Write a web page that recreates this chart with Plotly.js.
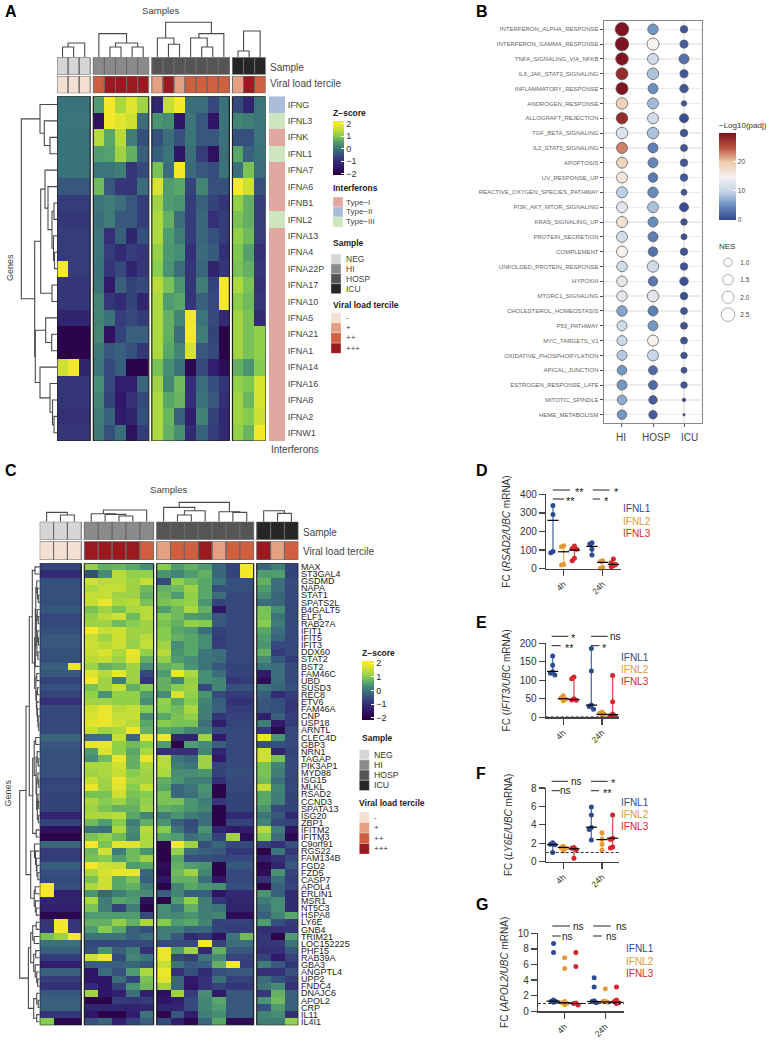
<!DOCTYPE html>
<html><head><meta charset="utf-8">
<script src="https://cdn.plot.ly/plotly-3.0.1.min.js"></script>
<style>html,body{margin:0;padding:0;background:#fff}#c{width:771px;height:1041px}</style>
</head><body><div id="c"></div>
<script>
// ---------- PANEL A DATA ----------
const genesA=["IFNG","IFNL3","IFNK","IFNL1","IFNA7","IFNA6","IFNB1","IFNL2","IFNA13","IFNA4","IFNA22P","IFNA17","IFNA10","IFNA5","IFNA21","IFNA1","IFNA14","IFNA16","IFNA8","IFNA2","IFNW1"];
const interferonTypeA=[1,2,0,2,0,0,0,2,0,0,0,0,0,0,0,0,0,0,0,0,0];
const sampleGroup=[0,0,0,1,1,1,1,1,2,2,2,2,2,2,2,3,3,3];
const viralA=[0,0,0,2,3,3,3,3,1,3,1,2,2,2,2,1,3,2];
const viralC=[0,0,0,3,3,3,3,2,1,2,2,3,1,2,2,3,1,2];
const zA=[
[-.05,-.05,-.05,.5,2,1.3,1.8,1.2,-1.2,1.5,2,-.1,-.1,-.6,-.05,-.6,-1.2,0],
[0,0,0,-1.6,2,1.8,1.6,-.1,.4,.3,-1.5,0,-.4,-1.5,0,.2,.1,0],
[-.05,-.05,-.05,1.4,.6,1.4,.1,-.5,-.5,-.1,-.5,0,-.4,-.4,-.05,-.5,-.5,0],
[-.05,-.05,-.05,.5,.55,1.2,.7,-.3,-.3,0,-1.5,-.1,-.8,-1.6,-.1,.6,-.25,-.05],
[-.05,-.05,-.05,0,0,.1,-.9,-.6,.9,-.1,2,-.15,-.4,-.55,0,-.05,.9,-.1],
[-.4,-.4,-.4,.8,-.4,-.9,-.9,-.1,1.7,.5,.6,-.7,.2,-.5,-.5,2,1.6,-.5],
[-.8,-.8,-.8,0,.1,-.1,-.4,-.8,1.2,.5,.4,-.8,-.3,-.7,-.9,1.1,.7,-.8],
[-.9,-.9,-.9,-.1,.1,-.4,-.4,-.8,1.3,.7,-.1,-.8,-.2,-1,-.8,.9,.7,-.8],
[-.8,-.8,-.8,0,-1,-.3,-1.2,-.5,1.3,.5,.1,-.8,-.2,-.5,-.8,1.1,.8,-.8],
[-.8,-.8,-.8,0,-.8,-1.1,-.8,-.9,1.1,.45,.3,-1,-.15,-.35,-1,.95,.55,-1],
[2,-.8,-.8,-.05,-.9,-.6,-1.2,-.9,1,.4,-.1,-.9,-.2,-1.2,-.9,.9,.7,-.9],
[-.9,-.9,-.9,0,-1.4,-.3,-.7,-.6,1.4,.9,.4,-.9,.1,-.7,2,1.3,.9,-1],
[-.9,-.9,-.9,.2,-.9,-1.1,-.7,-1.2,1.3,.5,.6,-.9,-.3,-.6,2,1.05,.8,-.9],
[-1.2,-1.2,-1.2,.2,-.05,-.8,-.6,-.8,1.3,.7,.2,2,0,-.6,-1.1,1.2,.9,-1.1],
[-1.9,-1.9,-1.9,.25,-1.6,-.7,-.3,-.3,1.3,.7,-.1,2,.1,-.7,-1.9,1.2,.9,1.1],
[-1.9,-1.9,-1.9,.05,-.4,-.3,-.5,-.9,1.3,.6,.2,1.7,-.4,-.6,-1.9,1.2,.9,1.1],
[1.6,2,-1.2,0,-.6,-.3,-1.9,-1.9,.9,.3,-.05,-1.8,-.6,-1.3,-1.7,.7,.4,1],
[-.9,-.9,-.9,.3,-.6,-1.3,-1.3,-.2,1.2,.25,.8,-1,-.1,-.55,-.9,1.1,.95,1.7],
[-.9,-.9,-.9,.2,-.7,-1.5,-1,-.6,1.3,.6,.75,-1,-.05,-.4,-1,1.2,.75,1.7],
[-1,-1,-1,.1,-.25,-1.4,-1.2,-.5,1.3,.75,-.3,-1.3,.15,-.7,-1.1,1.2,1,1.6],
[-.9,-.9,-.9,.05,-.5,-.1,-1.6,-.8,1.3,.7,.35,-1.1,-.25,-.8,-1.1,1.1,.75,2]
];
// dendrograms: [left, right, merge height]; integers are leaves
const treesTopA=[[[0,1,10.3],2,14.3],[0,[[1,2,10.3],[3,4,10.3],14.3],23.7],[[0,[1,2,13],19.3],[[3,[4,5,10.3],19.3],6,23.7],35],[[0,1,6.3],2,26.3]];
const treeLeftA=[[0,[1,[2,3,7],12.7],17],[[[4,[5,[[6,7,3],[8,[9,10,2.5],3.5],5],9],12],[11,12,5],16.3],[[13,[14,15,5.3],11.3],[16,[17,[18,[19,20,3],4.5],7],17],21.7],22.3],35.7];

// ---------- PANEL C DATA ----------
const genesC=["MAX","ST3GAL4","GSDMD","NAPA","STAT1","SPATS2L","B4GALT5","ELF1","RAB27A","IFIT1","IFIT5","IFIT3","DDX60","STAT2","BST2","FAM46C","UBD","SUSD3","REC8","ETV6","FAM46A","CNP","USP18","ARNTL","CLEC4D","GBP3","NRN1","TAGAP","PIK3AP1","MYD88","ISG15","MLKL","RSAD2","CCND3","SPATA13","ISG20","ZBP1","IFITM2","IFITM3","C9orf91","RGS22","FAM134B","FGD2","FZD5","CASP7","APOL4","ERLIN1","MSR1","NT5C3","HSPA8","LY6E","GNB4","TRIM21","LOC152225","PHF15","RAB39A","GBA3","ANGPTL4","UPP2","FNDC4","DNAJC6","APOL2","CRP","IL11","IL4I1"];
const zC=[
[-.7,-.7,-.7,1.1,.7,.75,.6,.3,1,.5,.7,.5,-.2,-.7,2,-.2,.1,-.7],
[-1.1,-1.1,-1.1,-.5,.3,1.4,1.1,1.1,.4,.2,.5,.7,-.2,-.7,2,.5,.5,-.7],
[-.5,-.5,-.5,1.6,1.4,1.4,1.2,1.5,-.6,1.1,.8,.6,0,-.5,-.5,.7,-.1,-.6],
[-.5,-.5,-.5,1.3,1.5,1.5,1.2,.8,.7,.8,1.2,.6,-.5,-.5,-.5,.5,-.1,-.6],
[-.5,-.5,-.5,1.5,1.5,1.2,1.2,.7,.8,.5,1.1,.6,-.1,-.6,-.6,.3,-.2,-.6],
[-.5,-.5,-.5,1.5,1.9,1.3,1.4,.9,.9,1,1.1,.4,-.7,-.6,-.6,-.1,-.2,-.6],
[-.4,-.4,-.4,.9,1.2,.9,1.3,1.4,.5,.8,1.3,.7,-1.5,-.6,-.6,.9,.3,-.6],
[-.6,-.6,-.6,1.1,1.4,1.6,.8,1.4,1,.8,.5,.4,-.4,-.6,-.6,.9,0,-.6],
[-.6,-.6,-.6,1.2,1.2,.8,1,1.2,.9,.7,1.1,1,-.4,-.6,-.6,1,.1,-.6],
[-.5,-.5,-.5,2,1.5,1.6,1.2,1.2,1,.6,.5,-.1,-.7,-.6,-.6,.6,-.1,-.6],
[-.4,-.4,-.4,1.5,1.2,1.6,1.2,1.4,1,.7,.6,.3,-.8,-.6,-.6,.5,-.2,-.6],
[-.4,-.4,-.4,1.6,1.4,1.6,1.1,1.5,1.2,.3,.6,.3,-.8,-.6,-.6,.4,-.6,-.6],
[-.5,-.5,-.5,1.5,1.7,1.3,1.9,1.1,1.4,.4,.6,0,-.1,-.6,-.6,.7,-.8,-.6],
[-.5,-.5,-.5,1.4,1.5,1.2,1.8,.7,1.1,.5,.3,0,-.1,-.6,-.6,.3,-.4,-.8],
[-.3,-.3,1.9,1.2,.7,.8,1.2,.3,.7,.8,.4,0,-.4,-.7,-.7,0,-.1,-.6],
[-.4,-.4,-.4,1.8,1.4,1.9,1.2,-.6,.5,1.9,1.3,.3,-.1,-.7,-.7,-1.4,-.1,-.6],
[-.7,-.7,-.7,2,1.2,.1,1.2,-.9,.7,.2,1.1,.3,.2,-.9,-.8,-1.7,-.1,-.6],
[-.5,-.5,-.5,.9,1.2,1.5,.7,1,.7,1,1.2,-.6,.2,-.5,-.5,0,-.2,-.5],
[-.7,-.7,-.7,1.1,.4,1.1,1.1,.5,.3,1.7,1.1,.4,-.6,-.8,-.8,-.3,-1.1,-.8],
[-1,-1,-1,1.2,1.2,1.1,1.1,.3,1.1,.6,1,.2,-.3,-1,-1,-.4,-.5,-.9],
[-.6,-.6,-.6,1.6,1.9,1.4,1.5,1,1,.8,1.3,.1,-.3,-.8,-.8,-.4,-.5,-.9],
[-.6,-.6,-.6,1.7,1.9,1.5,1.5,.3,.6,.9,1.1,.1,-.9,-.7,-.7,-1.3,-.3,-.8],
[-.6,-.6,-.6,1.8,1.9,1.6,1.4,.6,1,.9,.9,-.1,-1.3,-.7,-.7,.1,-1.4,-.8],
[-.6,-.6,-.6,1.5,1.2,1.3,1.9,.7,.6,.5,.2,.1,-.6,-.6,-.6,-.9,-1.8,-.6],
[-.2,-.2,-.2,-.1,-.05,1.5,-.2,1.9,1.9,-1.2,-1.2,1.2,-1.4,-.6,-.6,1.9,.4,-.6],
[-.4,-.4,-.4,1.9,1.9,1.1,.8,1,.5,-1.9,.5,.3,-.3,-.6,-.6,-.5,-.5,-.6],
[-.5,-.5,-.5,.5,1.7,1.1,.6,1.3,-1,-1,-1,.2,-1.2,-.6,-.6,1.6,-1.2,-.7],
[-.5,-.5,-.5,.3,.8,1.9,.7,1.9,1.4,0,-.2,1.2,-1.4,-.6,-.6,1.6,.9,-.6],
[-.5,-.5,-.5,1.3,1.3,1.6,.7,1.3,1.4,.1,0,1.2,-.7,-.6,-.6,.9,.2,-.6],
[-.5,-.5,-.5,1.2,1.3,1.5,1,1.2,1.3,.3,.3,.4,-.7,-.5,-.5,.9,.1,-.6],
[-.7,-.7,-.7,1.5,1.2,1.9,1.2,1.2,.7,.4,.1,.1,-1,-.6,-.6,.8,-.1,-.7],
[-.6,-.6,-.6,1.9,1.2,1.8,1,1.5,.6,-.2,0,.4,-1.9,-.6,-.6,1.5,.2,-.6],
[-.7,-.7,-.7,.9,.9,1.6,.9,1,.9,-.2,-.1,.3,-1.9,-.7,-.7,.6,.1,-.7],
[-.7,-.7,-.7,1.3,1,1.2,.8,1.1,.9,.9,.4,.1,-.9,-.7,-.7,.6,.1,-.7],
[-.7,-.7,-.7,1.2,.9,.7,.7,1.2,.7,.6,.4,.2,-1.9,-.7,-.7,.4,-.6,-.7],
[-1.2,-1.2,-1.2,1.3,1.3,1.4,.6,.2,.1,.4,.1,-.1,-1.9,-1.1,-1.1,0,-.4,-1.1],
[-.7,-.7,-.7,.8,.5,1,.1,.7,.4,-.3,-.6,-.1,-1.9,-.7,-.7,.2,-.6,-.7],
[-1.6,-1.6,-1.6,0,-.1,1.3,.3,1.4,1,0,-.5,.4,-1.2,-1.4,-1.3,1.4,.1,-1.5],
[-1.9,-1.9,-1.9,.9,1.1,.8,.2,1.3,.6,.5,-.1,.1,-.7,1.2,-1.7,1,-.1,-1.8],
[-.2,-.2,-.2,2,.9,1.8,1.8,1.3,-1.9,2,1.2,-.5,-.2,-.6,-.6,-.7,-1,-.5],
[-.8,-.8,-.8,.8,1.6,.1,.8,.4,-1.9,1.1,-.1,-.3,-.4,-.9,-.9,-1.9,0,-.9],
[-.8,-.8,-.8,.9,1,.5,.8,1.2,-1.9,.6,-.5,-.5,-.6,-.6,-.6,-1.3,-1,-.6],
[-.3,-.3,-.3,2,1.6,1.5,.5,.6,-1.7,.7,.5,.4,-1.9,-.4,-.4,-1.8,-1.2,-.4],
[-.5,-.5,-.5,1.3,1.7,1.9,1.9,-.2,-1.8,.8,1.2,.2,-1.9,-.6,-.6,-1.7,.4,-.7],
[-.6,-.6,-.6,.9,1.6,.6,.9,-.3,-1.5,.7,.7,-.1,-1.5,-.6,-.6,-1,-.1,-.8],
[2,-.5,-.5,1.3,1.6,.6,.7,.1,-1.9,.2,.6,.4,.3,-.5,-.5,-1.9,-.3,-.7],
[2,-1.3,-1.3,.4,-.2,.1,.4,.3,-.3,.2,-.3,-.3,-1.5,-1.1,-1.1,.4,-.3,-1.1],
[-1.2,-1.2,-1.2,1.3,.1,.6,.5,-1.6,-1.9,.5,1.1,.1,-.9,-1.2,-1.2,.1,.3,-1.1],
[-1.3,-1.3,-1.3,.9,.1,-.7,.1,-1.9,.3,0,.7,.1,0,-1.2,-1.2,-.1,.3,-1.1],
[-1.8,-1.8,-1.8,.5,.5,.5,.5,-.6,.3,.25,.4,.1,.2,-1.7,-1.7,-.3,.2,.6],
[-.9,2,-.9,.7,.7,1.1,.7,1.3,1,.5,.6,.2,-.7,-.7,-.7,.5,-.5,-.8],
[-.9,2,-.9,.5,1,.6,-.3,-.5,.1,.1,-.2,-.2,-.7,-.8,-.8,-1,-1,-.9],
[.9,1.2,2,0,0,0,-.3,-.1,.1,-.4,-1.1,-.9,-1.6,0,.8,-.9,-1.9,.5],
[-.05,-.05,-.05,-.6,-.6,-.6,-.6,-.6,-.6,-.6,-.6,2,-.7,-.1,-.1,-.9,-.9,0],
[-.3,-.3,-.3,-.5,.4,-.3,.1,-1,1.9,.5,1.2,-1.1,.7,-.4,-.4,-1,-1,-.4],
[-.8,-.8,-.8,1.6,2,-.6,.2,0,1.9,-.6,-.8,0,.3,-.7,-.7,-.7,-1.4,-.7],
[-1.3,-1.3,-1.3,-.3,-.3,-.3,-.2,-.4,1.5,0,-.4,-.3,.7,2,-.8,.1,-.4,-.9],
[-.3,-.3,-.3,-1.5,-.1,-.5,.5,1.3,1.9,-1,-.5,-1.1,-.5,-.4,-.4,-1,-1,-.5],
[-.8,-.8,-.8,-1.5,-1.5,-.1,-.7,.9,1.8,-.2,-1.4,-1,-.1,-.7,-.7,-.1,-.5,-.8],
[-1,-1,-1,-1.1,-1.5,-.7,.4,.8,1.2,-.2,-1.5,-1,-.7,-.9,-.9,0,.3,-1],
[-.4,-.4,-.4,1.2,-1.5,-1.3,-.1,-1.3,-1.6,1.2,-.8,.3,-1.4,-.4,-.4,-.9,.7,-.3],
[-.3,-.3,-.3,-1.9,-1.9,-.8,-.9,-.8,-1.5,-1.3,-.6,.2,.6,-.4,-.4,.4,.8,-.3],
[-.3,-.3,-.3,-1.2,-1.2,-1.2,-1.2,-1.2,-1.2,-1.2,-.6,.2,.5,-.4,-.4,-.5,.5,-.3],
[-.9,-.9,-.9,-1.5,-1.9,-1.9,-1.3,0,-1.8,-.4,-1.3,.1,.3,-.4,-.4,.2,.3,-1],
[1,-1.8,-1.8,-.5,-.2,-1.3,-.7,-.3,-.6,-1.3,-1.8,-.2,.6,-1.7,-1.7,.1,.1,1.1]
];
const treesTopC=[[0,[1,2,6.7],9.3],[[0,[1,[2,3,5.7],7.3],8],4,11.7],[[0,[[1,2,6.7],3,11],14.3],[4,[5,6,9.3],10],19.3],[0,[1,2,8.3],11]];
const treeB1a=[[2,[3,[4,5,1.4],2.2],3],[[6,[7,8,1.5],2.5],[[9,[10,11,1.2],2],[12,13,1.8],2.8],3.4],3.9];
const treeB1b=[[15,16,3],[[17,18,2.2],[19,[20,[21,[22,23,1],1.6],2.2],2.8],3.3],3.8];
const treeU1=[[0,1,4.7],[[treeB1a,14,4.4],treeB1b,5],7.4];
const treeU2=[[[24,25,4],[[26,[27,28,1.5],2.5],[[29,[30,31,1],1.8],[[32,[33,34,1],1.8],[35,36,1.4],2.4],3],3.6],5.5],[37,38,3.5],7];
const treeU3=[[39,[40,[41,[42,[43,44,1.8],2.8],3.4],4.2],5.2],[[45,46,4.5],[47,[48,49,3.5],4.3],5.5],9];
const treeL1=[[[50,51,3.5],[52,53,5.5],7],[[54,55,4],[56,[57,[58,59,2],3],4.5],6],9];
const treeL2=[[60,[61,62,1.5],3],[63,64,3],6];
const treeLeftC=[[[treeU1,treeU2,10.4],treeU3,13.7],[treeL1,treeL2,11.3],20];

// ---------- PANEL B DATA ----------
const pathways=["INTERFERON_ALPHA_RESPONSE","INTERFERON_GAMMA_RESPONSE","TNFA_SIGNALING_VIA_NFKB","IL6_JAK_STAT3_SIGNALING","INFLAMMATORY_RESPONSE","ANDROGEN_RESPONSE","ALLOGRAFT_REJECTION","TGF_BETA_SIGNALING","IL2_STAT5_SIGNALING","APOPTOSIS","UV_RESPONSE_UP","REACTIVE_OXYGEN_SPECIES_PATHWAY","PI3K_AKT_MTOR_SIGNALING","KRAS_SIGNALING_UP","PROTEIN_SECRETION","COMPLEMENT","UNFOLDED_PROTEIN_RESPONSE","HYPOXIA","MTORC1_SIGNALING","CHOLESTEROL_HOMEOSTASIS","P53_PATHWAY","MYC_TARGETS_V1","OXIDATIVE_PHOSPHORYLATION","APICAL_JUNCTION","ESTROGEN_RESPONSE_LATE","MITOTIC_SPINDLE","HEME_METABOLISM"];
const padjHI=[30,30,30,28,30,19,28,12.5,23,18.5,16.5,9.5,13,17,11.5,15,11,13.5,13,6.5,11,10.5,9,5.5,5.5,7,5.5];
const padjHOSP=[5.5,15,11,8.5,5,8,11,8.5,4,4.5,3.5,4.8,8.5,4.8,4,3,11,3.5,13,4,5.5,15,10,2.5,2.5,1.5,1.5];
const padjICU=[1,1.5,3,1,1,1,.5,1,1,1,1,1,.3,.5,.5,.8,.8,.5,.5,1,.8,.8,.8,1,1,.5,1];
const nesHI=[2.46,2.46,2.11,1.95,1.95,1.79,1.79,1.79,1.64,1.64,1.64,1.64,1.64,1.64,1.64,1.64,1.49,1.49,1.49,1.49,1.35,1.35,1.35,1.22,1.35,1.22,1.22];
const nesHOSP=[1.49,1.95,1.64,1.79,1.35,1.64,1.64,1.79,1.35,1.35,1.22,1.49,1.64,1.35,1.35,1.22,1.79,1.22,1.79,1.35,1.35,1.64,1.64,1.1,1.1,.98,.98];
const nesICU=[.76,.87,1.35,.87,.98,.41,1.1,.76,.66,.76,.76,.49,1.1,.57,.49,.76,.76,.98,.76,.66,.66,.66,.57,.49,.57,.17,.08];
const nesLegend=[1,1.5,2,2.5];
const cohorts=["HI","HOSP","ICU"];

// ---------- PANELS D–G DATA (order: IFNL1 4h, IFNL2 4h, IFNL3 4h, IFNL1 24h, IFNL2 24h, IFNL3 24h) ----------
const valuesD=[[340,292,93,86],[124,118,23,20],[122,109,104,56,43],[140,133,104,73],[43,39,7,2],[52,32,23,16,11]];
const mediansD=[260,91,100,120,34,23];
const valuesE=[[166,141,123,119,114],[58,53,49,45],[109,104,50,47,46],[186,125,33,29,22],[14,11,8,5],[113,42,9,5,4]];
const mediansE=[124,50,48,33,8,7];
const valuesF=[[2.06,1.9,1.85,1],[1.67,1.55,1.45,1.15],[1.55,1.45,1.3,.37],[5.95,5.07,3.7,3.5,2.35],[3.15,2.45,1.9,1.23],[5.07,2.55,2.4,1.6,1.5]];
const mediansF=[1.85,1.55,1.4,3.75,2.4,2.55];
const valuesG=[[8.7,7.55,1.45,1.3,1.25,1.15],[6.85,5.5,1.25,1.1,1,.85],[7.55,5.75,1.05,1,.8],[4.3,3.1,1.35,1.25,1.1],[2.9,1.3,1.25,1.15],[3.1,1.45,1.25,1.1,1]];
const mediansG=[1.3,1.1,1,1.25,1.2,1.15];
const timeLabels=["4h","24h"];
const ifnNames=["IFNL1","IFNL2","IFNL3"];

// ---------- STYLE ----------
const W=771,H=1041,FONT='"Liberation Sans",Arial,sans-serif';
const sampleColors=['#d6d6d6','#8a8a8a','#555555','#262626'];
const viralColors=['#f4e0d2','#e3a082','#cf5f3e','#9a1a20'];
const typeColors=['#e2a8a0','#aabcda','#cde6bf'];
const ifnColors=['#2f4b8f','#e39a36','#d8262c'];
const sampleNames=['NEG','HI','HOSP','ICU'];
const viralNames=['-','+','++','+++'];
const typeNames=['Type\u2212I','Type\u2212II','Type\u2212III'];
const zStops=[[-2,'#2a0043'],[-1.5,'#2f1566'],[-1,'#342f77'],[-.5,'#36507e'],[0,'#3c7579'],[.5,'#4e9c70'],[1,'#86cc4f'],[1.5,'#c4de35'],[2,'#f4e82b']];
const padjScale=[[0,'#35488f'],[.17,'#6c90c0'],[.33,'#c6d6e8'],[.5,'#f4f1ee'],[.67,'#eccaaa'],[.83,'#b8533f'],[1,'#7d1420']];

const xd=(a,b)=>[a/W,b/W], yd=(t,b)=>[1-b/H,1-t/H];
const traces=[],shapes=[],annotations=[],layout={};
let nx=0,ny=0;
const xKey=r=>'xaxis'+r.slice(1), yKey=r=>'yaxis'+r.slice(1);
function addX(c){nx++;const r='x'+(nx>1?nx:'');layout[xKey(r)]=Object.assign({fixedrange:true,visible:false},c);return r;}
function addY(c){ny++;const r='y'+(ny>1?ny:'');layout[yKey(r)]=Object.assign({fixedrange:true,visible:false},c);return r;}
function link(X,Y){layout[xKey(X)].anchor=Y;layout[yKey(Y)].anchor=X;}
function txt(x,y,t,o={}){annotations.push({xref:'paper',yref:'paper',x:x/W,y:1-y/H,text:o.b?'<b>'+t+'</b>':t,showarrow:false,xanchor:o.a||'left',yanchor:'middle',textangle:o.rot||0,font:{family:FONT,size:o.s||9,color:o.c||'#333'},borderpad:0,borderwidth:0});}
function key(x0,y0,x1,y1,c){shapes.push({type:'rect',xref:'paper',yref:'paper',x0:x0/W,x1:x1/W,y0:1-y0/H,y1:1-y1/H,fillcolor:c,line:{color:'rgba(255,255,255,0.6)',width:.5},layer:'above'});}
function stepScale(cs){const n=cs.length,o=[];cs.forEach((c,i)=>{o.push([i/n,c]);o.push([(i+1)/n,c]);});return o;}
function zScale(lo,hi){const o=[[0,zStops[0][1]]];zStops.forEach(s=>{const p=(s[0]-lo)/(hi-lo);if(p>0&&p<1)o.push([p,s[1]]);});o.push([1,zStops[zStops.length-1][1]]);return o;}

function dendro(tree,pos){const a=[],b=[];
  function rec(n){if(typeof n==='number')return [pos[n],0];
    const l=rec(n[0]),r=rec(n[1]),h=n[2];
    a.push(l[0],l[0],r[0],r[0],null);b.push(l[1],h,h,r[1],null);
    return [(l[0]+r[0])/2,h];}
  rec(tree);return {p:a,h:b};}

const groupSizes=[3,5,7,3];
function heatPanel(o){
  const n=o.genes.length,colPos=[];let i=0;
  groupSizes.forEach((g,gi)=>{for(let k=0;k<g;k++){colPos.push(i+gi*o.gap);i++;}});
  const xr=[-.5,colPos[17]+.5];
  const X=addX({domain:xd(o.x0,o.x1),range:xr});
  const rowTicks=o.genes.map((_,i)=>i);
  const Y=addY({visible:true,domain:yd(o.top,o.bot),range:[n-.5,-.5],side:'right',tickmode:'array',tickvals:rowTicks,ticktext:o.genes,ticks:'outside',ticklen:o.tl,tickcolor:'rgba(0,0,0,0)',showgrid:false,zeroline:false,showline:false,tickfont:{family:FONT,size:9,color:o.tc}});
  link(X,Y);
  let ci=0;
  groupSizes.forEach((g,gi)=>{
    const idx=colPos.slice(ci,ci+g);
    const t={type:'heatmap',x:idx,y:rowTicks,z:o.z.map(r=>r.slice(ci,ci+g)),xaxis:X,yaxis:Y,zmin:o.zmin,zmax:o.zmax,colorscale:zScale(o.zmin,o.zmax),showscale:gi===0,hoverinfo:'skip'};
    if(gi===0)t.colorbar=o.cb;
    traces.push(t);
    shapes.push({type:'rect',xref:X,yref:Y,x0:idx[0]-.5,x1:idx[g-1]+.5,y0:-.5,y1:n-.5,line:{color:'#1f1f1f',width:1.2},layer:'above'});
    ci+=g;
  });
  // strips
  [[o.sTop,o.sBot,sampleGroup,sampleColors],[o.vTop,o.vBot,o.viral,viralColors]].forEach(s=>{
    const Ys=addY({domain:yd(s[0],s[1]),range:[-.5,.5],anchor:X});
    let c=0;
    groupSizes.forEach(g=>{
      traces.push({type:'heatmap',x:colPos.slice(c,c+g),y:[0],z:[s[2].slice(c,c+g)],xaxis:X,yaxis:Ys,zmin:0,zmax:4,colorscale:stepScale(s[3]),showscale:false,hoverinfo:'skip'});
      c+=g;
    });
    colPos.forEach(p=>shapes.push({type:'rect',xref:X,yref:Ys,x0:p-.5,x1:p+.5,y0:-.5,y1:.5,line:{color:'#6a6a6a',width:1},layer:'above'}));
  });
  // top dendrogram
  const Yd=addY({domain:yd(o.sTop-40,o.sTop),range:[0,40],anchor:X});
  o.treesTop.forEach((t,gi)=>{
    const off=groupSizes.slice(0,gi).reduce((a,b)=>a+b,0),pos=colPos.slice(off,off+groupSizes[gi]);
    const d=dendro(t,pos);
    traces.push({type:'scatter',mode:'lines',x:d.p,y:d.h,xaxis:X,yaxis:Yd,line:{color:'#4a4a4a',width:1.1},hoverinfo:'skip',cliponaxis:false});
  });
  // left dendrogram
  const Xl=addX({domain:xd(o.x0-o.leftW,o.x0),range:[o.leftW,0],anchor:Y});
  const d=dendro(o.treeLeft,rowTicks);
  traces.push({type:'scatter',mode:'lines',x:d.h,y:d.p,xaxis:Xl,yaxis:Y,line:{color:'#4a4a4a',width:1.1},hoverinfo:'skip',cliponaxis:false});
  return {X,Y,rowTicks};
}

// ---------- A ----------
const pA=heatPanel({genes:genesA,z:zA,viral:viralA,gap:.278,x0:57,x1:265.7,top:96.3,bot:441,sTop:57.3,sBot:74.7,vTop:76,vBot:93.3,treesTop:treesTopA,treeLeft:treeLeftA,leftW:38,zmin:-2.1,zmax:2.2,tl:0,tc:'#444',
  cb:{x:333/W,xanchor:'left',xpad:0,ypad:0,y:1-121/H,yanchor:'top',lenmode:'pixels',len:54,thicknessmode:'pixels',thickness:11,outlinewidth:0,tickmode:'array',tickvals:[-2,-1,0,1,2],ticks:'inside',ticklen:3,tickcolor:'#fff',tickfont:{family:FONT,size:9,color:'#333'}}});
// interferon type strip carries the gene labels
const Xi=addX({domain:xd(269,285),range:[-.5,.5],anchor:pA.Y});
layout[yKey(pA.Y)].anchor=Xi;
traces.push({type:'heatmap',x:[0],y:pA.rowTicks,z:interferonTypeA.map(v=>[v]),xaxis:Xi,yaxis:pA.Y,zmin:0,zmax:3,colorscale:stepScale(typeColors),showscale:false,hoverinfo:'skip'});

txt(5,12,'A',{b:1,s:16,c:'#000'});
txt(161,10.5,'Samples',{a:'center',s:9.6,c:'#444'});
txt(270,67.5,'Sample',{s:10,c:'#444'});
txt(270,84,'Viral load tercile',{s:10,c:'#444'});
txt(10,268,'Genes',{a:'center',rot:-90,s:9,c:'#444'});
txt(270.5,449.5,'Interferons',{s:10,c:'#444'});
txt(333,113.5,'Z\u2212score',{b:1,s:8.5,c:'#222'});
txt(333,188,'Interferons',{b:1,s:8.5,c:'#222'});
typeNames.forEach((t,i)=>{key(333,197+i*10,343,207+i*10,typeColors[i]);txt(346,202+i*10,t,{s:8,c:'#444'});});
txt(333,243,'Sample',{b:1,s:8.5,c:'#222'});
sampleNames.forEach((t,i)=>{key(331,254+i*9.9,341,263.9+i*9.9,sampleColors[i]);txt(346,259+i*9.9,t,{s:8.5,c:'#444'});});
txt(332.5,304.5,'Viral load tercile',{b:1,s:8.5,c:'#222'});
viralNames.forEach((t,i)=>{key(331,312.5+i*10.2,341,322.7+i*10.2,viralColors[i]);txt(346,317.5+i*10.2,t,{s:8,c:'#444'});});

// ---------- C ----------
heatPanel({genes:genesC,z:zC,viral:viralC,gap:.223,x0:39.7,x1:298.3,top:563.3,bot:1025.3,sTop:521.7,sBot:540,vTop:541.3,vBot:560,treesTop:treesTopC,treeLeft:treeLeftC,leftW:30,zmin:-2.17,zmax:2.17,tl:0,tc:'#222',
  cb:{x:362.3/W,xanchor:'left',xpad:0,ypad:0,y:1-661/H,yanchor:'top',lenmode:'pixels',len:59,thicknessmode:'pixels',thickness:12,outlinewidth:0,tickmode:'array',tickvals:[-2,-1,0,1,2],ticks:'inside',ticklen:3,tickcolor:'#fff',tickfont:{family:FONT,size:9,color:'#222'}}});
txt(5,471,'C',{b:1,s:16,c:'#000'});
txt(169,489.5,'Samples',{a:'center',s:9.6,c:'#444'});
txt(302.7,532.3,'Sample',{s:10,c:'#444'});
txt(302.7,551,'Viral load tercile',{s:10,c:'#444'});
txt(7.5,793,'Genes',{a:'center',rot:-90,s:9,c:'#444'});
txt(362,652.5,'Z\u2212score',{b:1,s:8.5,c:'#222'});
txt(361.7,738,'Sample',{b:1,s:8.5,c:'#222'});
sampleNames.forEach((t,i)=>{key(359.3,749.7+i*10.2,369.3,759.9+i*10.2,sampleColors[i]);txt(374.3,754.7+i*10.2,t,{s:8.7,c:'#333'});});
txt(359,802.5,'Viral load tercile',{b:1,s:8.5,c:'#222'});
viralNames.forEach((t,i)=>{key(359.3,812+i*10.5,369.3,822.5+i*10.5,viralColors[i]);txt(374.3,817+i*10.5,t,{s:8,c:'#333'});});

// ---------- B ----------
const rowsB=pathways.map((_,i)=>i);
const XB=addX({visible:true,domain:xd(603.7,702.3),range:[-.59,2.59],tickmode:'array',tickvals:[0,1,2],ticktext:['','',''],ticks:'outside',ticklen:3,tickcolor:'#555',showgrid:true,gridcolor:'#ececec',gridwidth:1.3,zeroline:false,showline:true,linecolor:'#888',linewidth:1,mirror:true});
const YB=addY({visible:true,domain:yd(20.7,423.3),range:[26.58,-.58],tickmode:'array',tickvals:rowsB,ticktext:pathways,ticks:'outside',ticklen:3,tickcolor:'#444',showgrid:true,gridcolor:'#ececec',gridwidth:1.3,zeroline:false,showline:true,linecolor:'#888',linewidth:1,mirror:true,tickfont:{family:FONT,size:6,color:'#666'}});
link(XB,YB);
const SIZEREF=0.027;
[[padjHI,nesHI],[padjHOSP,nesHOSP],[padjICU,nesICU]].forEach((s,i)=>{
  const m={color:s[0],cmin:0,cmax:30,colorscale:padjScale,size:s[1],sizemode:'area',sizeref:SIZEREF,line:{color:'#555',width:.7},showscale:i===0,opacity:1};
  if(i===0)m.colorbar={x:719.3/W,xanchor:'left',xpad:0,ypad:0,y:1-132.7/H,yanchor:'top',lenmode:'pixels',len:87.3,thicknessmode:'pixels',thickness:17.4,outlinewidth:0,tickmode:'array',tickvals:[0,10,20],ticks:'inside',ticklen:3,tickcolor:'#fff',tickfont:{family:FONT,size:6.5,color:'#444'}};
  traces.push({type:'scatter',mode:'markers',x:rowsB.map(()=>i),y:rowsB,xaxis:XB,yaxis:YB,marker:m,hoverinfo:'skip',cliponaxis:false});
});
[0,1,2].forEach(i=>annotations.push({xref:XB,yref:'paper',x:i,y:1-437/H,xshift:[-1,3,5][i],text:cohorts[i],showarrow:false,yanchor:'middle',xanchor:'center',font:{family:FONT,size:10,color:'#444'}}));
const XN=addX({domain:xd(720,736),range:[-.5,.5]});
const YN=addY({visible:true,domain:yd(253.6,323.4),range:[3.5,-.5],side:'right',tickmode:'array',tickvals:[0,1,2,3],ticktext:nesLegend.map(v=>v.toFixed(1)),ticks:'outside',ticklen:2,tickcolor:'rgba(0,0,0,0)',showgrid:false,zeroline:false,showline:false,tickfont:{family:FONT,size:6.5,color:'#444'}});
link(XN,YN);
traces.push({type:'scatter',mode:'markers',x:nesLegend.map(()=>0),y:[0,1,2,3],xaxis:XN,yaxis:YN,marker:{color:'#fff',size:nesLegend,sizemode:'area',sizeref:SIZEREF,line:{color:'#555',width:.7}},hoverinfo:'skip',cliponaxis:false});
txt(476,11,'B',{b:1,s:16,c:'#000'});
txt(719.3,125.7,'\u2212Log10(padj)',{s:8,c:'#333'});
txt(719.3,246,'NES',{s:8,c:'#333'});

// ---------- D–G ----------
function fcPanel(o){
  const spacing=o.sp, r=[(o.x0-o.g0)/spacing,(o.x1-o.g0)/spacing];
  const X=addX({visible:true,domain:xd(o.x0,o.x1),range:r,tickmode:'array',tickvals:[0,1],ticktext:timeLabels,tickangle:-45,ticks:'outside',ticklen:6,tickwidth:1.2,tickcolor:'#444',showline:true,linecolor:'#444',linewidth:1.2,showgrid:false,zeroline:false,tickfont:{family:FONT,size:8.5,color:'#333'}});
  const Y=addY({visible:true,domain:yd(o.top,o.bot),range:[0,o.ymax],tickmode:'array',tickvals:o.yt,ticks:'outside',ticklen:6,tickwidth:1.2,tickcolor:'#444',showline:true,linecolor:'#444',linewidth:1.2,showgrid:false,zeroline:false,tickfont:{family:FONT,size:10,color:'#333'},title:{text:o.title,standoff:o.so,font:{family:FONT,size:10,color:'#333'}}});
  link(X,Y);
  const ppu=(o.bot-o.top)/o.ymax;
  if(o.dash)shapes.push({type:'line',xref:X,yref:Y,x0:r[0],x1:r[1],y0:1,y1:1,layer:'above',line:{color:'#333',width:1,dash:'3px,2px'}});
  o.vals.forEach((v,i)=>{
    const time=i<3?0:1,ifn=i%3,cx=time+(ifn-1)*o.off,col=ifnColors[ifn];
    if(o.range)traces.push({type:'scatter',mode:'lines',x:[cx,cx],y:[Math.min(...v),Math.max(...v)],xaxis:X,yaxis:Y,line:{color:col,width:1.3},opacity:.8,hoverinfo:'skip',cliponaxis:false});
    const off=[];v.forEach((a,k)=>{let d=0;if(k>0&&Math.abs(a-v[k-1])*ppu<4){d=off[k-1]===0?-2.2:(off[k-1]<0?2.2:0);}off.push(d);});
    traces.push({type:'scatter',mode:'markers',x:v.map((_,k)=>cx+off[k]/spacing),y:v,xaxis:X,yaxis:Y,marker:{color:col,size:5},hoverinfo:'skip',cliponaxis:false});
    traces.push({type:'scatter',mode:'markers',x:[cx],y:[o.med[i]],xaxis:X,yaxis:Y,marker:{symbol:'line-ew',size:o.mw,color:'#000',line:{color:'#000',width:1.2}},hoverinfo:'skip',cliponaxis:false});
  });
  o.sig.forEach(s=>{
    shapes.push({type:'line',xref:'paper',yref:'paper',x0:s[0]/W,x1:s[1]/W,y0:1-s[2]/H,y1:1-s[2]/H,line:{color:'#222',width:1}});
    txt(s[4],s[2]+(s[3]==='ns'?0:2),s[3],{a:'center',s:s[3]==='ns'?10:11,c:'#222'});
  });
  ifnNames.forEach((t,i)=>txt(o.lx,o.ly[i],t,{s:10,c:ifnColors[i]}));
}
fcPanel({x0:546,x1:620.7,g0:563.7,sp:39,off:.275,top:494.3,bot:568.7,ymax:400,yt:[0,100,200,300,400],title:'FC (<i>RSAD2/UBC</i> mRNA)',so:7,vals:valuesD,med:mediansD,range:true,mw:8,dash:false,
  sig:[[552.7,570,490,'**',579],[552.7,564,499,'**',570.7],[592.7,609.7,490,'*',616],[592.7,600,499,'*',606]],lx:623.3,ly:[508.7,521,533.3]});
fcPanel({x0:545.7,x1:619.3,g0:563.3,sp:38.7,off:.275,top:643.3,bot:717.3,ymax:200,yt:[0,50,100,150,200],title:'FC (<i>IFIT3/UBC</i> mRNA)',so:7,vals:valuesE,med:mediansE,range:true,mw:8,dash:true,
  sig:[[551.7,568.3,636.3,'*',573.7],[551.7,560.7,645.7,'**',569],[591,607.7,636.3,'ns',615.3],[591,599.3,645.7,'*',604.3]],lx:620.7,ly:[657.3,669.3,681.7]});
fcPanel({x0:545.7,x1:619.3,g0:563.3,sp:38.7,off:.275,top:788,bot:861.7,ymax:8,yt:[0,2,4,6,8],title:'FC (<i>LY6E/UBC</i> mRNA)',so:16,vals:valuesF,med:mediansF,range:true,mw:8,dash:true,
  sig:[[551.7,568,781.3,'ns',576],[551.7,560,790.7,'ns',565.7],[591,607.7,781.3,'*',613],[591,599,790.7,'**',607.7]],lx:620.7,ly:[802.3,814.3,826.7]});
fcPanel({x0:538,x1:624,g0:564.7,sp:40.6,off:.275,top:933.3,bot:1011.3,ymax:10,yt:[0,2,4,6,8,10],title:'FC (<i>APOL2/UBC</i> mRNA)',so:7,vals:valuesG,med:mediansG,range:false,mw:10,dash:true,
  sig:[[552.3,570,926,'ns',578.3],[552.3,560.7,936,'ns',567.7],[593.3,610.7,926,'ns',621.7],[593.3,601.7,936,'ns',611]],lx:625.7,ly:[948.3,961,973.7]});
txt(476,471,'D',{b:1,s:16,c:'#000'});
txt(476,622.5,'E',{b:1,s:16,c:'#000'});
txt(476,773.5,'F',{b:1,s:16,c:'#000'});
txt(476,904.5,'G',{b:1,s:16,c:'#000'});

Object.assign(layout,{width:W,height:H,margin:{l:0,r:0,t:0,b:0,pad:0,autoexpand:false},paper_bgcolor:'#fff',plot_bgcolor:'rgba(0,0,0,0)',showlegend:false,shapes,annotations,font:{family:FONT}});
Plotly.newPlot('c',traces,layout,{displayModeBar:false,staticPlot:true});
</script></body></html>
